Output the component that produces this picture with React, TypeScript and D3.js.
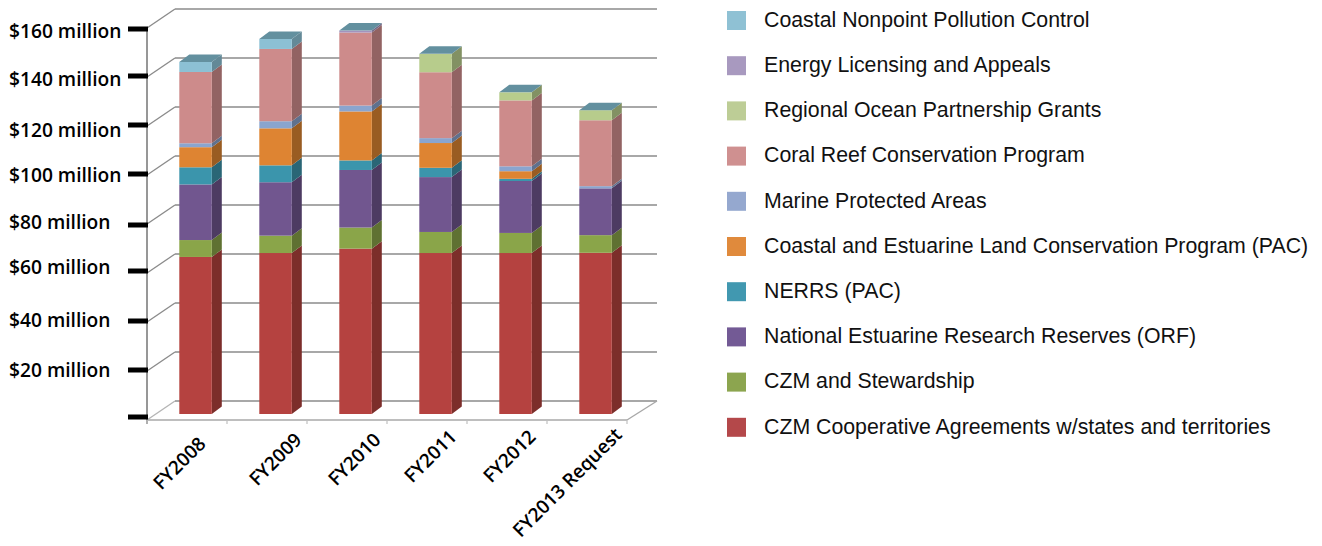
import React from "react";
import * as d3 from "d3";

const years = ["FY2008", "FY2009", "FY2010", "FY2011", "FY2012", "FY2013 Request"];

const czmCooperative = [64.1, 65.7, 67.5, 65.7, 65.7, 65.8];
const czmStewardship = [6.9, 7.1, 8.6, 8.6, 8.2, 7.2];
const nerrsOrf = [22.7, 21.8, 23.5, 22.4, 21.2, 19.1];
const nerrsPac = [7.0, 6.9, 3.9, 3.8, 0.9, 0];
const landConservation = [8.2, 15.1, 20.0, 10.1, 3.1, 0];
const marineProtected = [1.6, 2.9, 2.4, 2.0, 2.0, 0.9];
const coralReef = [29.1, 29.5, 29.8, 26.9, 26.9, 26.9];
const regionalOcean = [0, 0, 0, 7.5, 3.3, 4.1];
const energyLicensing = [0, 0, 0.8, 0, 0, 0];
const coastalNonpoint = [4.1, 4.1, 0, 0, 0, 0];

const seriesNames = [
  "CZM Cooperative Agreements w/states and territories",
  "CZM and Stewardship",
  "National Estuarine Research Reserves (ORF)",
  "NERRS (PAC)",
  "Coastal and Estuarine Land Conservation Program (PAC)",
  "Marine Protected Areas",
  "Coral Reef Conservation Program",
  "Regional Ocean Partnership Grants",
  "Energy Licensing and Appeals",
  "Coastal Nonpoint Pollution Control",
];
const seriesValues = [
  czmCooperative, czmStewardship, nerrsOrf, nerrsPac, landConservation,
  marineProtected, coralReef, regionalOcean, energyLicensing, coastalNonpoint,
];
const barColors = ["#b5423f", "#8aa548", "#71568f", "#3b95ac", "#de8431", "#8aa5cf", "#cd8b8b", "#b7cc8c", "#a393bd", "#8cc0d4"];
const legendColors = ["#b4484a", "#8ca54f", "#735a95", "#4198b0", "#e08a3c", "#95a8cf", "#cf9090", "#bdcd96", "#a899bf", "#8fc1d4"];

const tickValues = [0, 20, 40, 60, 80, 100, 120, 140, 160];
const tickLabels = ["", "$20 million", "$40 million", "$60 million", "$80 million", "$100 million", "$120 million", "$140 million", "$160 million"];
// The source artwork placed its axis furniture by hand: these are the deviations from the scale.
const tickNudge = [-3, -1, -1, -2, 1, -1, -1, -1, 1];
const labelNudge = [0, -0.5, -1.5, -5.5, -1.5, 0.5, 4.5, 2.5, 3.5];
const xLabelAnchor: [number, number][] = [[207, 445], [303, 441], [382, 441], [458, 438], [537, 438], [623, 436]];

const W = 1322, H = 546;
const DEPTH_X = 10, DEPTH_Y = -7.5;
const WALL_X = 28;

const x = d3.scaleBand<number>().domain(d3.range(years.length)).range([147, 627]);
const yFront = d3.scaleLinear().domain([0, 160]).range([420, 28]);
const yBack = d3.scaleLinear().domain([0, 160]).range([401, 9]);
const yBar = d3.scaleLinear().domain([0, 160]).range([414, 22]);
const BAR_W = 32.5;
const GRID = "#8b8b8b";

const stacked = d3.stack<number[], number>().keys(d3.range(seriesNames.length)).value((row, k) => row[k])(
  years.map((_, i) => seriesValues.map((s) => s[i]))
);

const poly = (pts: [number, number][]) => pts.map((p) => p.join(",")).join(" ");

export default function App() {
  const barLeft = (i: number) => x(i)! + 32.3;
  return (
    <svg width={W} height={H} viewBox={`0 0 ${W} ${H}`} style={{ position: "absolute", left: 0, top: 0, background: "#fff", display: "block" }}>
      <defs>
        <filter id="soft" x="-5%" y="-5%" width="110%" height="110%">
          <feGaussianBlur stdDeviation="0.45" />
        </filter>
      </defs>
      <g filter="url(#soft)">
        {/* walls and gridlines */}
        {tickValues.map((t) => (
          <g key={t}>
            <line x1={147} x2={147 + WALL_X} y1={yFront(t)} y2={yBack(t)} stroke={t === 0 ? "#b5b5b5" : GRID} strokeWidth={1.4} />
            <line x1={147 + WALL_X} x2={657} y1={yBack(t)} y2={yBack(t)} stroke={GRID} strokeWidth={1.5} />
          </g>
        ))}
        <line x1={147} x2={147} y1={yFront(160)} y2={yFront(0) + 4} stroke="#979797" strokeWidth={2} />
        <line x1={147} x2={627} y1={yFront(0)} y2={yFront(0)} stroke="#a8a8a8" strokeWidth={1.6} />
        <line x1={627} x2={657} y1={yFront(0)} y2={yBack(0)} stroke="#a8a8a8" strokeWidth={1.4} />
        {d3.range(years.length + 1).map((i) => {
          const tx = 147 + i * x.step();
          return <line key={i} x1={tx} x2={tx} y1={yFront(0)} y2={yFront(0) + 4} stroke="#c0c0c0" strokeWidth={1.2} />;
        })}

        {/* bars */}
        {years.map((yr, i) => {
          const l = barLeft(i), r = l + BAR_W;
          const top = Math.max(...stacked.map((s) => s[i][1]));
          const yt = yBar(top);
          return (
            <g key={yr}>
              {stacked.map((s, k) => {
                const y0 = yBar(s[i][0]), y1 = yBar(s[i][1]);
                if (s[i][1] - s[i][0] <= 0) return null;
                return (
                  <g key={k}>
                    <polygon
                      points={poly([[r, y0], [r + DEPTH_X, y0 + DEPTH_Y], [r + DEPTH_X, y1 + DEPTH_Y], [r, y1]])}
                      fill={d3.rgb(barColors[k]).darker(k >= 5 && k !== 5 ? 0.95 : 1.05).formatHex()}
                    />
                    <rect x={l} y={y1} width={BAR_W} height={y0 - y1} fill={barColors[k]} />
                  </g>
                );
              })}
              <polygon
                points={poly([[l, yt], [l + DEPTH_X, yt + DEPTH_Y], [r + DEPTH_X, yt + DEPTH_Y], [r, yt]])}
                fill="#64909f"
              />
            </g>
          );
        })}
      </g>

      {/* y axis ticks and labels */}
      {tickValues.map((t, i) => (
        <g key={t}>
          <rect x={128} y={yFront(t) - 2.5 + tickNudge[i]} width={20} height={5} fill="#000" />
          {tickLabels[i] && (
            <text
              x={9}
              y={yFront(t) + 6.5 + labelNudge[i]}
              fontFamily="'Open Sans'"
              fontWeight={600}
              fontSize={19.2}
              fill="#000"
            >
              {tickLabels[i]}
            </text>
          )}
        </g>
      ))}

      {/* x labels */}
      {years.map((yr, i) => (
        <text
          key={yr}
          transform={`translate(${xLabelAnchor[i][0]},${xLabelAnchor[i][1]}) rotate(-45)`}
          textAnchor="end"
          fontFamily="'Open Sans'"
          fontWeight={600}
          fontSize={19}
          fill="#000"
        >
          {yr}
        </text>
      ))}

      {/* legend */}
      {seriesNames.map((name, k) => {
        const row = seriesNames.length - 1 - k;
        const cy = 20.5 + row * 45.2;
        return (
          <g key={name}>
            <rect x={727} y={cy - 9.5} width={19} height={19} fill={legendColors[k]} />
            <text x={764} y={cy + 6.3} fontFamily="'Liberation Sans'" fontSize={21.3} fill="#111">
              {name}
            </text>
          </g>
        );
      })}
    </svg>
  );
}
